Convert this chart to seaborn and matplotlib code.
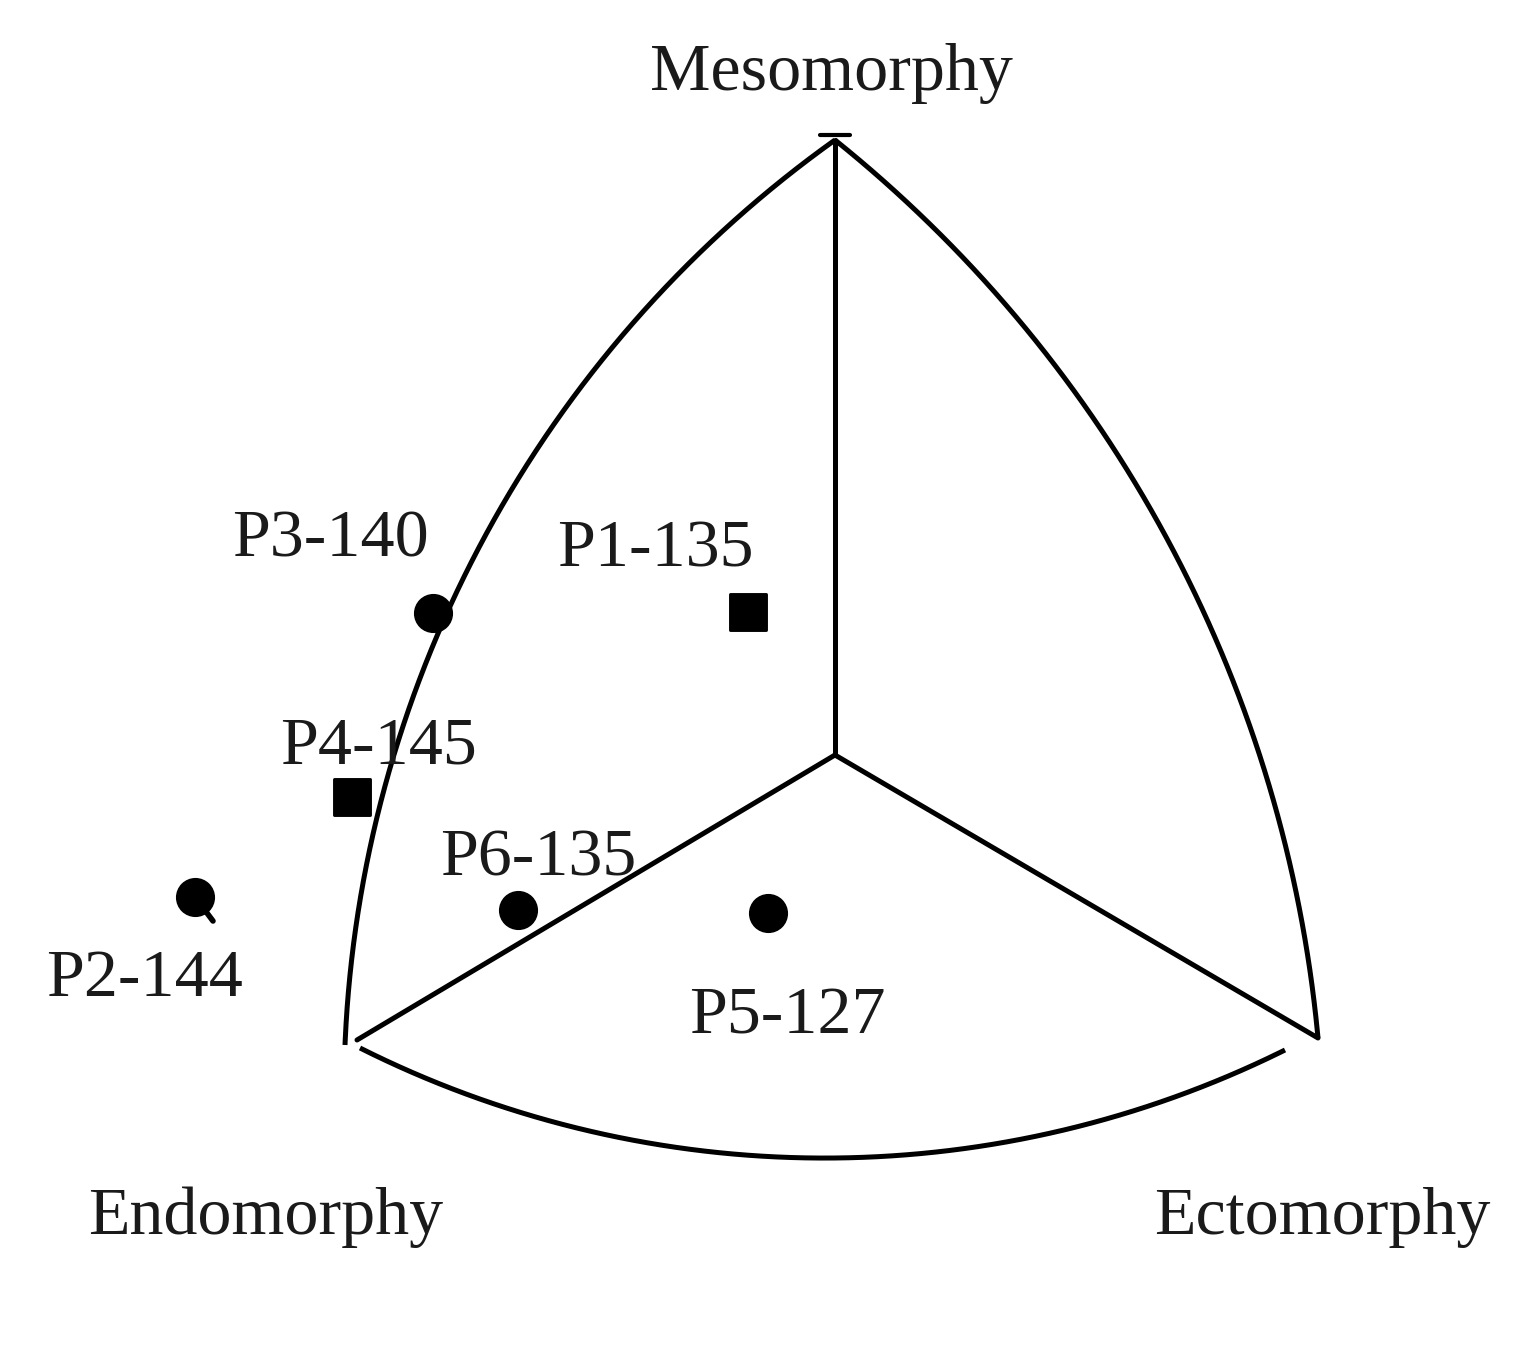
import numpy as np
import pandas as pd
import matplotlib.pyplot as plt
import seaborn as sns

# ==============================
# Datos (coordenadas leídas del somatograma, en píxeles de la imagen)
# ==============================
labels = ["P1-135", "P2-144", "P3-140", "P4-145", "P5-127", "P6-135"]
shape = ["square", "circle", "circle", "square", "circle", "circle"]
px = [748, 195, 433, 352, 768, 518]
py = [612, 897, 613, 797, 913, 910]
# posición del texto de cada etiqueta
lab_x = [655, 145, 330, 378, 787, 538]
lab_y = [550, 980, 540, 747, 1017, 859]

axis_names = ["Mesomorphy", "Endomorphy", "Ectomorphy"]
axis_x = [831, 266, 1322]
axis_y = [74, 1217, 1217]

df = pd.DataFrame({"label": labels, "shape": shape, "x": px, "y": py})

# ==============================
# Figura
# ==============================
sns.set_style("white")
plt.rcParams["font.family"] = ["Liberation Serif", "DejaVu Serif"]

fig = plt.figure(figsize=(15.39, 13.49), dpi=100)
ax = fig.add_axes([0, 0, 1, 1])
ax.set_xlim(0, 1539)
ax.set_ylim(1349, 0)
ax.axis("off")

lw = 3.6


def arc(p0, p1, p2, n=200):
    # arco de circunferencia que pasa por tres puntos
    (x1, y1), (x2, y2), (x3, y3) = p0, p1, p2
    d = 2 * (x1 * (y2 - y3) + x2 * (y3 - y1) + x3 * (y1 - y2))
    ux = ((x1**2 + y1**2) * (y2 - y3) + (x2**2 + y2**2) * (y3 - y1) + (x3**2 + y3**2) * (y1 - y2)) / d
    uy = ((x1**2 + y1**2) * (x3 - x2) + (x2**2 + y2**2) * (x1 - x3) + (x3**2 + y3**2) * (x2 - x1)) / d
    r = np.hypot(x1 - ux, y1 - uy)
    a0 = np.arctan2(y1 - uy, x1 - ux)
    a1 = np.arctan2(y2 - uy, x2 - ux)
    a2 = np.arctan2(y3 - uy, x3 - ux)
    # elegir el sentido que pasa por el punto medio
    def norm(a):
        return (a - a0) % (2 * np.pi)
    if norm(a1) < norm(a2):
        t = np.linspace(0, norm(a2), n)
    else:
        t = np.linspace(0, norm(a2) - 2 * np.pi, n)
    return ux + r * np.cos(a0 + t), uy + r * np.sin(a0 + t)


top = (835, 140)
center = (835, 755)
left = (345, 1045)
right = (1318, 1038)

for p0, p1, p2 in [(top, (447, 613), left),
                   (top, (1198, 600), right),
                   ((360, 1048), (835, 1158), (1285, 1050))]:
    xs, ys = arc(p0, p1, p2)
    ax.plot(xs, ys, color="black", lw=lw, solid_capstyle="butt")

for end in [top, (357, 1040), right]:
    ax.plot([center[0], end[0]], [center[1], end[1]], color="black", lw=lw)

# pequeña marca en el vértice superior
ax.plot([top[0] - 15, top[0] + 15], [top[1] - 5, top[1] - 5], color="black", lw=3)

# ==============================
# Puntos
# ==============================
sns.scatterplot(data=df[df["shape"] == "circle"], x="x", y="y", ax=ax,
                marker="o", s=680, color="black", edgecolor="black", legend=False, zorder=5)
sns.scatterplot(data=df[df["shape"] == "square"], x="x", y="y", ax=ax,
                marker="s", s=680, color="black", edgecolor="black", legend=False, zorder=5)

# cola del punto P2
i2 = labels.index("P2-144")
ax.plot([px[i2], px[i2] + 18], [py[i2], py[i2] + 24], color="black", lw=4, zorder=4)

for t, x, y in zip(labels, lab_x, lab_y):
    ax.text(x, y, t, fontsize=49, ha="center", va="center", color="#1a1a1a")

for t, x, y in zip(axis_names, axis_x, axis_y):
    ax.text(x, y, t, fontsize=49, ha="center", va="center", color="#1a1a1a")

ax.set_xlabel("")
ax.set_ylabel("")
plt.savefig("out.png", dpi=100, facecolor="white")
